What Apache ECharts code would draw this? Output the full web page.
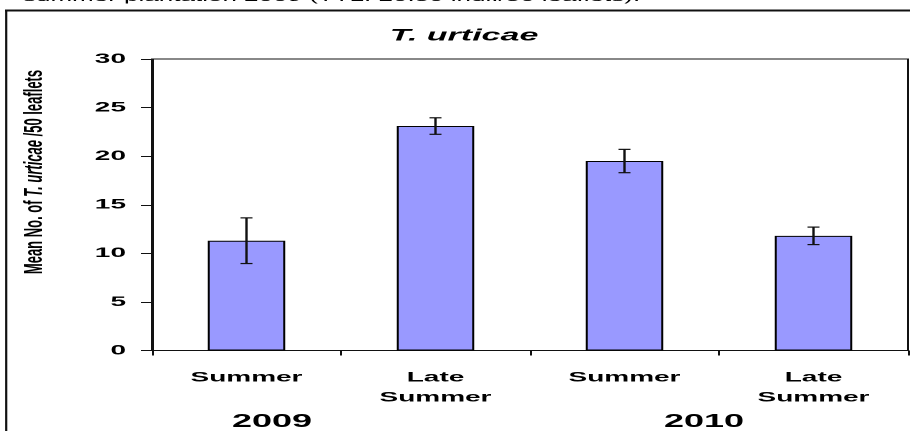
<!DOCTYPE html>
<html><head><meta charset="utf-8">
<script src="https://cdn.jsdelivr.net/npm/echarts@6/dist/echarts.min.js"></script>
<style>
html,body{margin:0;padding:0;background:#fff;overflow:hidden;width:910px;height:431px;}
#wrap{width:910px;height:431px;overflow:hidden;position:relative;}
#chart{width:455px;height:431px;transform:scaleX(2);transform-origin:0 0;}
</style></head>
<body><div id="wrap"><div id="chart"></div></div>
<script>
// ---- data ----
const categories = ['Summer', 'Late\nSummer', 'Summer', 'Late\nSummer'];
const yearLabels = ['2009', '2010'];
const meanValues = [11.3, 23.1, 19.5, 11.8];
const errorValues = [2.35, 0.85, 1.2, 0.9];
const yMin = 0, yMax = 30, yInterval = 5;
const chartTitle = 'T. urticae';
const captionText = 'summer plantation 2009 (TTL: 20.50 indi./50 leaflets).';

const FONT = "'Liberation Sans', Arial, sans-serif";
const NARROW = "'Liberation Sans Narrow', 'Arial Narrow', 'Liberation Sans', sans-serif";

const chart = echarts.init(document.getElementById('chart'), null, {renderer: 'canvas', devicePixelRatio: 2});

const errData = meanValues.map((v, i) => [i, v, errorValues[i]]);

const option = {
  animation: false,
  backgroundColor: '#fff',
  grid: {left: 76, right: 1, top: 59, bottom: 80.5, show: true, borderColor: '#111', borderWidth: 1, containLabel: false},
  xAxis: {
    type: 'category', data: categories,
    axisLine: {lineStyle: {color: '#111', width: 1}},
    axisTick: {show: true, length: 5, interval: 0, alignWithLabel: false, lineStyle: {color: '#111'}},
    axisLabel: {color: '#000', fontFamily: FONT, fontWeight: 'bold', fontSize: 14, lineHeight: 20, margin: 17, interval: 0},
    splitLine: {show: false}
  },
  yAxis: {
    type: 'value', min: yMin, max: yMax, interval: yInterval,
    axisLine: {show: true, lineStyle: {color: '#111', width: 1}},
    axisTick: {show: true, length: 5.5, lineStyle: {color: '#111'}},
    axisLabel: {color: '#000', fontFamily: FONT, fontWeight: 'bold', fontSize: 14, margin: 13},
    splitLine: {show: false}
  },
  series: [
    {
      type: 'bar', data: meanValues, barWidth: '41%',
      itemStyle: {color: '#9999FF', borderColor: '#000', borderWidth: 1}
    },
    {
      type: 'custom', data: errData, encode: {x: 0, y: 1}, z: 5,
      renderItem: function (params, api) {
        const i = api.value(0), m = api.value(1), e = api.value(2);
        const top = api.coord([i, m + e]);
        const bot = api.coord([i, m - e]);
        const hw = 3;
        const st = {stroke: '#111', lineWidth: 1.2};
        return {type: 'group', children: [
          {type: 'line', shape: {x1: top[0], y1: top[1], x2: bot[0], y2: bot[1]}, style: st},
          {type: 'line', shape: {x1: top[0] - hw, y1: top[1], x2: top[0] + hw, y2: top[1]}, style: st},
          {type: 'line', shape: {x1: bot[0] - hw, y1: bot[1], x2: bot[0] + hw, y2: bot[1]}, style: st}
        ]};
      }
    }
  ],
  graphic: [
    {type: 'line', shape: {x1: 2.5, y1: 10.5, x2: 460, y2: 10.5}, style: {stroke: '#111', lineWidth: 2}},
    {type: 'line', shape: {x1: 3.1, y1: 10, x2: 3.1, y2: 440}, style: {stroke: '#111', lineWidth: 1.1}},
    {type: 'text', x: 11.5, y: 4, style: {text: captionText, font: '13px ' + FONT, fill: '#000', verticalAlign: 'bottom', align: 'left'}},
    {type: 'text', x: 232, y: 36, style: {text: chartTitle, font: 'italic bold 17px ' + FONT, fill: '#000', align: 'center', verticalAlign: 'middle'}},
    {type: 'text', x: 17.5, y: 172, rotation: Math.PI / 2,
      style: {text: 'Mean No. of {i|T. urticae} /50 leaflets', font: 'bold 13px ' + NARROW, fill: '#000', align: 'center', verticalAlign: 'middle',
        rich: {i: {fontStyle: 'italic', fontWeight: 'bold', fontSize: 13, fontFamily: NARROW, fill: '#000'}}}},
    {type: 'text', x: 136, y: 422, style: {text: yearLabels[0], font: 'bold 18px ' + FONT, fill: '#000', align: 'center', verticalAlign: 'middle'}},
    {type: 'text', x: 352, y: 422, style: {text: yearLabels[1], font: 'bold 18px ' + FONT, fill: '#000', align: 'center', verticalAlign: 'middle'}}
  ]
};
chart.setOption(option);
</script>
</body></html>
